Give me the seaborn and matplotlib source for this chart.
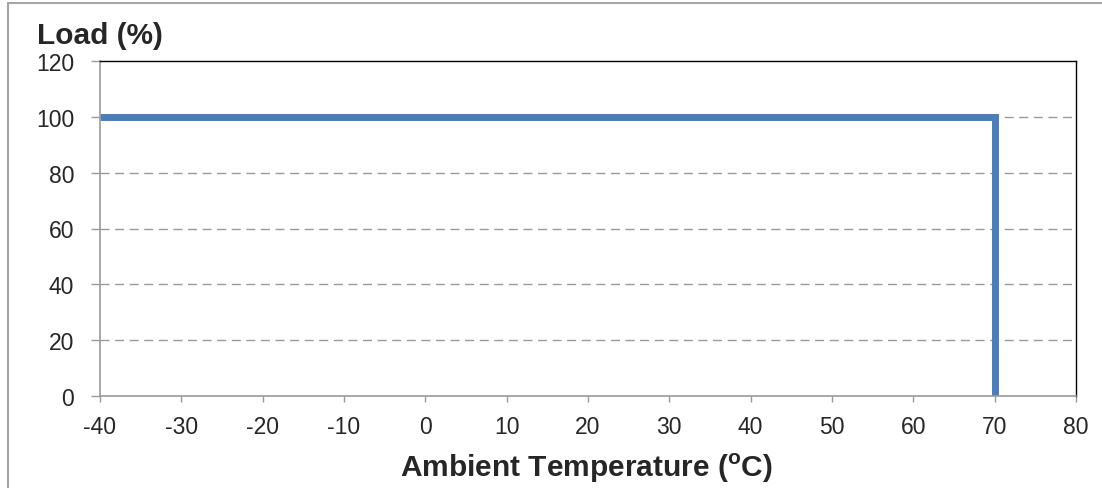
import numpy as np
import pandas as pd
import matplotlib
matplotlib.use('Agg')
import matplotlib.pyplot as plt
from matplotlib.lines import Line2D
import seaborn as sns

# ── Data ─────────────────────────────────────────────────────────────────────
temperature = [-40, 70, 70]          # ambient temperature (°C)
load_pct    = [100, 100, 0]          # output load (%)
x_ticks     = list(range(-40, 81, 10))
y_ticks     = list(range(0, 121, 20))

df = pd.DataFrame({'temperature': temperature, 'load': load_pct})

# ── Style ────────────────────────────────────────────────────────────────────
sns.set_style('white')
plt.rcParams['font.family'] = ['Liberation Sans', 'DejaVu Sans']
plt.rcParams['mathtext.fontset'] = 'custom'
plt.rcParams['mathtext.rm'] = 'Liberation Sans'
plt.rcParams['mathtext.bf'] = 'Liberation Sans:bold'

fig = plt.figure(figsize=(11.02, 4.89), dpi=100)
ax = fig.add_axes([100 / 1102, 92 / 489, 976 / 1102, 335 / 489])

sns.lineplot(data=df, x='temperature', y='load', sort=False, estimator=None,
             color='#4A7EBB', linewidth=5.0, ax=ax,
             solid_joinstyle='miter', solid_capstyle='butt')

ax.set_xlim(-40, 80)
ax.set_ylim(0, 120)
ax.set_xticks(x_ticks)
ax.set_yticks(y_ticks)
ax.set_xticklabels([str(t) for t in x_ticks], fontsize=16.5)
ax.set_yticklabels([str(t) for t in y_ticks], fontsize=16.5)
ax.set_xlabel('')
ax.set_ylabel('')

# dashed horizontal grid
for y in y_ticks[1:-1]:
    ax.axhline(y, color='#9A9A9A', linewidth=1.0,
               linestyle=(0, (6.5, 4)), zorder=0)

# spines: gray left/bottom, black top/right
for side in ['left', 'bottom']:
    ax.spines[side].set_color('#9A9A9A')
    ax.spines[side].set_linewidth(1.2)
for side in ['top', 'right']:
    ax.spines[side].set_color('#000000')
    ax.spines[side].set_linewidth(1.0)

ax.tick_params(axis='y', direction='out', length=6.5, width=1, color='#9A9A9A',
               pad=12, left=True)
ax.tick_params(axis='x', direction='out', length=4.5, width=1, color='#9A9A9A',
               pad=9, bottom=True)

# axis titles
fig.text(37 / 1102, 1 - 44 / 489, 'Load (%)', fontsize=21.5, fontweight='bold',
         ha='left', va='baseline')
fig.text(586 / 1102, 1 - 477 / 489, r'Ambient Temperature ($^{\mathbf{o}}$C)',
         fontsize=21.5, fontweight='bold', ha='center', va='baseline')

# outer chart frame (top and left edges visible)
fig.add_artist(Line2D([7.5 / 1102, 7.5 / 1102], [0, 1 - 4 / 489],
                      transform=fig.transFigure, color='#A6A6A6', linewidth=1.5))
fig.add_artist(Line2D([7.5 / 1102, 1], [1 - 4 / 489, 1 - 4 / 489],
                      transform=fig.transFigure, color='#A6A6A6', linewidth=1.5))

fig.savefig('out.png', dpi=100)
